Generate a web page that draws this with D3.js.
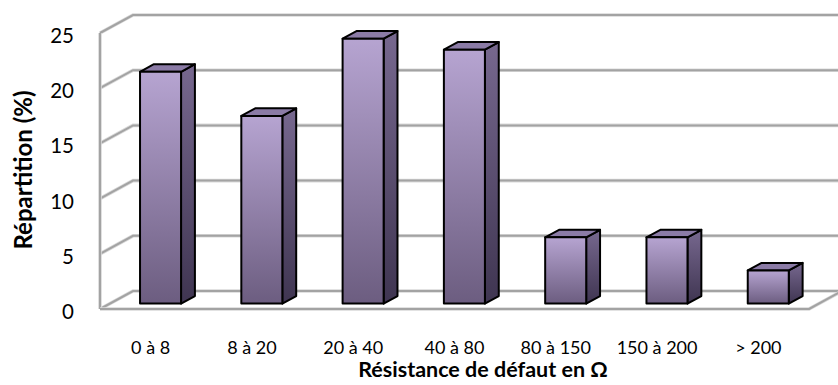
<!DOCTYPE html>
<html>
<head>
<meta charset="utf-8">
<script src="https://cdn.jsdelivr.net/npm/d3@7/dist/d3.min.js"></script>
<style>
  html, body { margin: 0; padding: 0; background: #fff; }
  svg { display: block; }
  text { font-family: Lato, "Open Sans", sans-serif; fill: #000; }
</style>
</head>
<body>
<svg id="chart" width="838" height="385"></svg>
<script>
// Distribution of fault resistance values
const categories = ["0 à 8", "8 à 20", "20 à 40", "40 à 80", "80 à 150", "150 à 200", "> 200"];
const values = [21, 17, 24, 23, 6, 6, 3];
const yTicks = [0, 5, 10, 15, 20, 25];
const xTitle = "Résistance de défaut en Ω";
const yTitle = "Répartition (%)";

const W = 838, H = 385;
const svg = d3.select("#chart");

// Front plane of the plot box and the oblique depth vector
const front = { left: 100, right: 809, top: 33, bottom: 309 };
const depth = { dx: 33, dy: -18 };
const barFront = 0.3, barBack = 0.72;   // bar depth as fractions of the box depth

const x = d3.scaleBand()
  .domain(categories)
  .range([front.left, front.right])
  .paddingInner(0.595)
  .paddingOuter(0.2975);

const y = d3.scaleLinear().domain([0, 25]).range([front.bottom, front.top]);

// Project a point at front-plane coordinates (px, py) to depth fraction f
const P = (px, py, f) => [px + f * depth.dx, py + f * depth.dy];
const line = pts => "M" + pts.map(p => p.join(",")).join("L");

const gridColor = "#a3a3a3";
const backRight = front.right + depth.dx + 6;

// Walls: gridlines along the left wall and across the back wall
const grid = svg.append("g");
yTicks.forEach(t => {
  const d = line([P(front.left, y(t), 0), P(front.left, y(t), 1), [backRight, y(t) + depth.dy]]);
  grid.append("path").attr("d", d).attr("fill", "none")
    .attr("stroke", "#d9d9d9").attr("stroke-width", 3.6);
  grid.append("path").attr("d", d).attr("fill", "none")
    .attr("stroke", gridColor).attr("stroke-width", 2);
});

// Left wall front edge and floor outline
const frame = [
  line([[front.left, y(25)], [front.left, y(0)]]),
  line([[front.left, y(0)], [front.right, y(0)], P(front.right, y(0), 1)])
];
frame.forEach(d => {
  grid.append("path").attr("d", d).attr("fill", "none")
    .attr("stroke", "#d9d9d9").attr("stroke-width", 3.6).attr("stroke-linejoin", "round");
  grid.append("path").attr("d", d).attr("fill", "none")
    .attr("stroke", gridColor).attr("stroke-width", 2).attr("stroke-linejoin", "round");
});

// Gradients for the bar faces
const defs = svg.append("defs");
function vGrad(id, c0, c1) {
  const g = defs.append("linearGradient").attr("id", id)
    .attr("x1", 0).attr("y1", 0).attr("x2", 0).attr("y2", 1);
  g.append("stop").attr("offset", "0%").attr("stop-color", c0);
  g.append("stop").attr("offset", "100%").attr("stop-color", c1);
}
vGrad("gFront", "#b6a4d1", "#6c5d80");
vGrad("gSide", "#77688f", "#3f3551");

// 3D bars
const bars = svg.append("g").selectAll("g").data(categories.map((c, i) => ({ c, v: values[i] })))
  .join("g");

bars.each(function(d) {
  const g = d3.select(this);
  const x0 = x(d.c), x1 = x(d.c) + x.bandwidth();
  const yb = y(0), yt = y(d.v);
  const fl = P(x0, yt, barFront), fr = P(x1, yt, barFront);
  const flb = P(x0, yb, barFront), frb = P(x1, yb, barFront);
  const bl = P(x0, yt, barBack), br = P(x1, yt, barBack), brb = P(x1, yb, barBack);
  const style = s => s.attr("stroke", "#000").attr("stroke-width", 2).attr("stroke-linejoin", "round");
  g.append("path").attr("d", line([fr, br, brb, frb]) + "Z").attr("fill", "url(#gSide)").call(style);
  g.append("path").attr("d", line([fl, bl, br, fr]) + "Z").attr("fill", "#8b7ba6").call(style);
  g.append("path").attr("d", line([fl, fr, frb, flb]) + "Z").attr("fill", "url(#gFront)").call(style);
});

// Y axis labels on the front edge of the left wall
svg.append("g").selectAll("text").data(yTicks).join("text")
  .attr("x", 74).attr("y", d => y(d) + 2)
  .attr("text-anchor", "end").attr("dominant-baseline", "central")
  .style("font-size", "20.5px")
  .text(d => d);

// Category labels along the front of the floor
svg.append("g").selectAll("text").data(categories).join("text")
  .attr("x", d => x(d) + x.bandwidth() / 2).attr("y", 347)
  .attr("text-anchor", "middle").attr("dominant-baseline", "central")
  .style("font-size", "18px")
  .text(d => d);

// Axis titles
svg.append("text")
  .attr("x", 483).attr("y", 369)
  .attr("text-anchor", "middle").attr("dominant-baseline", "central")
  .style("font-size", "21.5px").style("font-weight", "bold")
  .text(xTitle);

svg.append("text")
  .attr("transform", "translate(22,170) rotate(-90)")
  .attr("text-anchor", "middle").attr("dominant-baseline", "central")
  .style("font-size", "24px").style("font-weight", "bold")
  .text(yTitle);
</script>
</body>
</html>
